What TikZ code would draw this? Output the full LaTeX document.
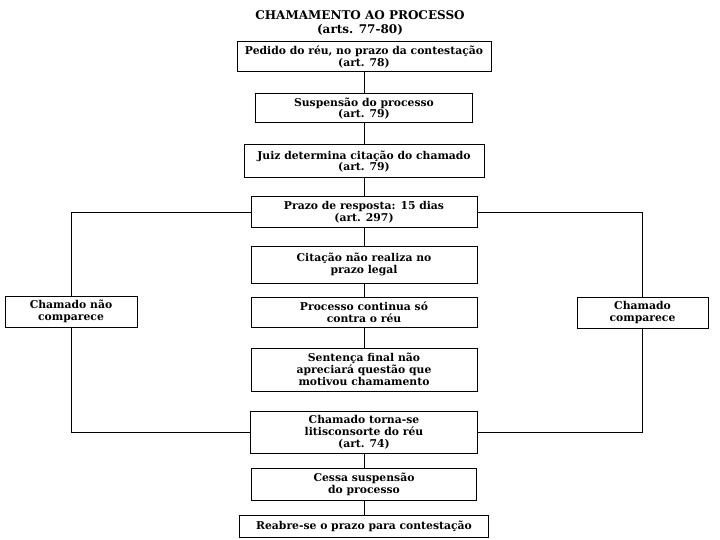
\documentclass[tikz,border=0pt]{standalone}
\usepackage{fontspec}
\setmainfont{DejaVu Serif}
\begin{document}
\begin{tikzpicture}[x=1pt,y=-1pt,
  box/.style={draw, line width=1pt, inner sep=0pt, align=center,
    font=\bfseries\fontsize{10.8}{11.8}\selectfont},
  link/.style={line width=1pt}]
\useasboundingbox (0,0) rectangle (720,540);
\node[align=center, font=\bfseries\fontsize{12}{14}\selectfont] (title) at (360,23)
  {CHAMAMENTO AO PROCESSO\\(arts. 77-80)};
\node[box, minimum width=254pt, minimum height=30pt] (pedido) at (364,57)
  {Pedido do réu, no prazo da contestação\\(art. 78)};
\node[box, minimum width=217pt, minimum height=29pt] (susp) at (364,108.5)
  {Suspensão do processo\\(art. 79)};
\node[box, minimum width=240pt, minimum height=33pt] (juiz) at (364,161.5)
  {Juiz determina citação do chamado\\(art. 79)};
\node[box, minimum width=226pt, minimum height=31pt] (prazo) at (364,212.5)
  {Prazo de resposta: 15 dias\\(art. 297)};
\node[box, minimum width=226pt, minimum height=37pt] (citacao) at (364,264.5)
  {Citação não realiza no\\prazo legal};
\node[box, minimum width=226pt, minimum height=30pt] (processo) at (364,312)
  {Processo continua só\\contra o réu};
\node[box, minimum width=226pt, minimum height=43pt] (sentenca) at (364,369.5)
  {Sentença final não\\apreciará questão que\\motivou chamamento};
\node[box, minimum width=227pt, minimum height=42pt] (torna) at (364,432)
  {Chamado torna-se\\litisconsorte do réu\\(art. 74)};
\node[box, minimum width=225pt, minimum height=32pt] (cessa) at (364,484)
  {Cessa suspensão\\do processo};
\node[box, minimum width=249pt, minimum height=22pt] (reabre) at (364,526)
  {Reabre-se o prazo para contestação};
\node[box, minimum width=132pt, minimum height=31pt] (naocomp) at (71,311.5)
  {Chamado não\\comparece};
\node[box, minimum width=131pt, minimum height=31pt] (comp) at (642.5,312.5)
  {Chamado\\comparece};
\draw[link] (pedido) -- (susp);
\draw[link] (susp) -- (juiz);
\draw[link] (juiz) -- (prazo);
\draw[link] (prazo) -- (citacao);
\draw[link] (citacao) -- (processo);
\draw[link] (processo) -- (sentenca);
\draw[link] (torna) -- (cessa);
\draw[link] (cessa) -- (reabre);
\draw[link] (prazo.west) -| (naocomp.north);
\draw[link] (prazo.east) -| (comp.north);
\draw[link] (naocomp.south) |- (torna.west);
\draw[link] (comp.south) |- (torna.east);
\end{tikzpicture}
\end{document}
